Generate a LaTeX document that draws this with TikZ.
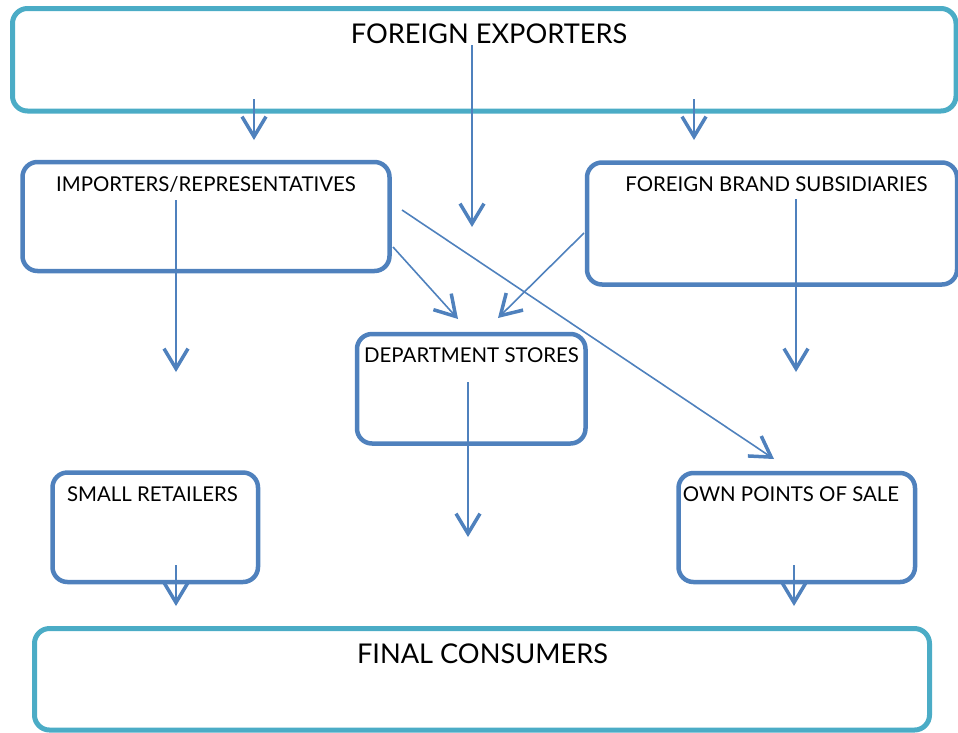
\documentclass[tikz,border=0pt]{standalone}
\usepackage{fontspec}
\setmainfont{Lato}
\usetikzlibrary{arrows.meta}
\definecolor{tealc}{HTML}{4BACC6}
\definecolor{bluec}{HTML}{4F81BD}
\tikzset{
  outerbox/.style={draw=tealc, line width=5pt, rounded corners=15pt},
  innerbox/.style={draw=bluec, line width=4.5pt, rounded corners=15pt},
  bigtext/.style={anchor=base, font=\fontsize{27.2}{29}\selectfont, inner sep=0pt},
  smalltext/.style={anchor=base, font=\fontsize{20.4}{22}\selectfont, inner sep=0pt},
  flow/.style={draw=bluec, line width=1.6pt, -{Straight Barb[length=20pt,width=24pt,line width=3.5pt]}},
}
\begin{document}
\begin{tikzpicture}[x=1pt,y=-1pt]
\useasboundingbox (0,0) rectangle (958,732);
% boxes
\draw[outerbox] (12.5,8.5) rectangle (956,111);
\draw[innerbox] (22.5,162) rectangle (389.5,271);
\draw[innerbox] (587,162.5) rectangle (957,284.5);
\draw[innerbox] (357,334) rectangle (585.5,443.5);
\draw[innerbox] (52.5,472.5) rectangle (258,582);
\draw[innerbox] (678.5,473) rectangle (915,582);
\draw[outerbox] (34.5,628.5) rectangle (929.5,730);
% labels
\node[bigtext] (fe) at (489,43) {FOREIGN EXPORTERS};
\node[smalltext] (imp) at (206,191) {IMPORTERS/REPRESENTATIVES};
\node[smalltext] (fbs) at (776.5,191) {FOREIGN BRAND SUBSIDIARIES};
\node[smalltext] (ds) at (471.5,362) {DEPARTMENT STORES};
\node[smalltext] (sr) at (152.5,501) {SMALL RETAILERS};
\node[smalltext] (ops) at (791,501) {OWN POINTS OF SALE};
\node[bigtext] (fc) at (482.5,663) {FINAL CONSUMERS};
% connector end points
\coordinate (a1) at (254,99);  \coordinate (a2) at (254,140);
\coordinate (b1) at (694,99);  \coordinate (b2) at (694,140);
\coordinate (c1) at (472,45);  \coordinate (c2) at (472,227);
\coordinate (d1) at (176,200); \coordinate (d2) at (176,372);
\coordinate (e1) at (393,247); \coordinate (e2) at (458,319);
\coordinate (f1) at (402,210); \coordinate (f2) at (774,459);
\coordinate (g1) at (584,233); \coordinate (g2) at (498,318);
\coordinate (h1) at (796,199); \coordinate (h2) at (796,372);
\coordinate (i1) at (468,382); \coordinate (i2) at (468,537);
\coordinate (j1) at (176,565); \coordinate (j2) at (176,606);
\coordinate (k1) at (794,565); \coordinate (k2) at (794,606);
\draw[flow] (a1) -- (a2);
\draw[flow] (b1) -- (b2);
\draw[flow] (c1) -- (c2);
\draw[flow] (d1) -- (d2);
\draw[flow] (e1) -- (e2);
\draw[flow] (f1) -- (f2);
\draw[flow] (g1) -- (g2);
\draw[flow] (h1) -- (h2);
\draw[flow] (i1) -- (i2);
\draw[flow] (j1) -- (j2);
\draw[flow] (k1) -- (k2);
\end{tikzpicture}
\end{document}
